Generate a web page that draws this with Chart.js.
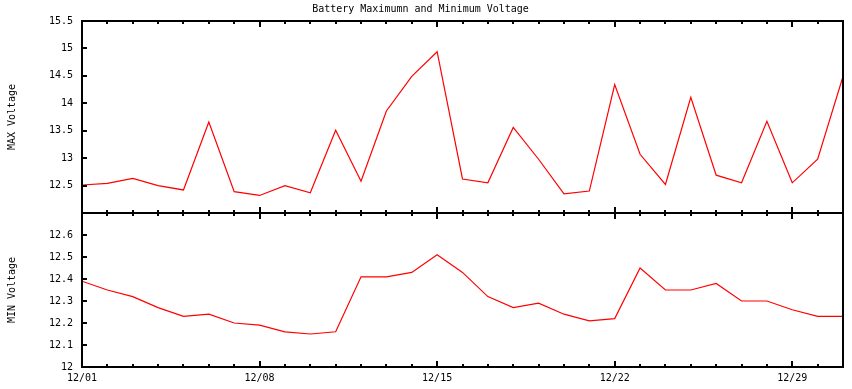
<!DOCTYPE html>
<html><head><meta charset="utf-8">
<script src="https://cdn.jsdelivr.net/npm/chart.js@4"></script>
<style>html,body{margin:0;padding:0;background:#fff}#wrap{width:852px;height:389px}</style>
</head><body><div id="wrap"><canvas id="c" width="852" height="389"></canvas></div>
<script>
const days = [1,2,3,4,5,6,7,8,9,10,11,12,13,14,15,16,17,18,19,20,21,22,23,24,25,26,27,28,29,30,31];
const maxVoltage = [12.51,12.54,12.63,12.50,12.42,13.66,12.39,12.32,12.50,12.37,13.51,12.58,13.86,14.49,14.94,12.62,12.55,13.56,12.98,12.35,12.40,14.34,13.07,12.52,14.11,12.69,12.55,13.67,12.55,12.98,14.49];
const minVoltage = [12.39,12.35,12.32,12.27,12.23,12.24,12.20,12.19,12.16,12.15,12.16,12.41,12.41,12.43,12.51,12.43,12.32,12.27,12.29,12.24,12.21,12.22,12.45,12.35,12.35,12.38,12.30,12.30,12.26,12.23,12.23];
const xTickDays = [1,8,15,22,29];
const maxTicks = [12.5,13,13.5,14,14.5,15,15.5];
const minTicks = [12,12.1,12.2,12.3,12.4,12.5,12.6];
const titleText = 'Battery Maximumn and Minimum Voltage';
const FONT = {family:'DejaVu Sans Mono', size:10, lineHeight:1.2};

const gnuplotFrame = {
  id:'gnuplotFrame',
  afterDraw(chart){
    const ctx = chart.ctx, ca = chart.chartArea;
    const xs = chart.scales.x, y1 = chart.scales.y1, y2 = chart.scales.y2;
    ctx.save();
    ctx.strokeStyle = '#000'; ctx.lineWidth = 2;
    const panels = [[y1.top, y1.bottom],[y2.top, y2.bottom]];
    panels.forEach(([t,b])=>{
      ctx.strokeRect(ca.left, t, ca.right-ca.left, b-t);
      days.forEach(d=>{
        const px = Math.round(xs.getPixelForValue(d));
        const len = xTickDays.includes(d) ? 6 : 3;
        ctx.beginPath(); ctx.moveTo(px, t); ctx.lineTo(px, t+len); ctx.stroke();
        ctx.beginPath(); ctx.moveTo(px, b); ctx.lineTo(px, b-len); ctx.stroke();
      });
    });
    [[y1,maxTicks],[y2,minTicks]].forEach(([s,tk])=>{
      tk.forEach(v=>{
        const py = Math.round(s.getPixelForValue(v));
        ctx.beginPath(); ctx.moveTo(ca.left, py); ctx.lineTo(ca.left+5, py); ctx.stroke();
      });
    });
    ctx.fillStyle = '#000';
    ctx.font = '10px "DejaVu Sans Mono"';
    ctx.textAlign = 'center'; ctx.textBaseline = 'middle';
    ctx.fillText(titleText, 420.5, 9);
    ctx.restore();
  }
};

const fmt = v => String(Math.round(v*10)/10);

new Chart(document.getElementById('c'), {
  type:'line',
  data:{
    datasets:[
      {label:'MAX', data: days.map((d,i)=>({x:d,y:maxVoltage[i]})), yAxisID:'y1', borderColor:'#ff0000', borderWidth:1.2, pointRadius:0, tension:0, fill:false},
      {label:'MIN', data: days.map((d,i)=>({x:d,y:minVoltage[i]})), yAxisID:'y2', borderColor:'#ff0000', borderWidth:1.2, pointRadius:0, tension:0, fill:false}
    ]
  },
  options:{
    responsive:false, animation:false, devicePixelRatio:1,
    layout:{padding:{left:0,right:9,top:21,bottom:0}},
    plugins:{legend:{display:false}, tooltip:{enabled:false}, title:{display:false}},
    scales:{
      x:{type:'linear', min:1, max:31,
        grid:{display:false, drawTicks:false}, border:{display:false},
        afterBuildTicks:s=>{s.ticks = xTickDays.map(v=>({value:v}));},
        afterFit:s=>{s.height = 22;},
        ticks:{color:'#000', font:FONT, padding:5, maxRotation:0, autoSkip:false,
          callback:v=>'12/'+String(v).padStart(2,'0')}
      },
      y2:{type:'linear', position:'left', stack:'v', stackWeight:154, min:12, max:12.7,
        grid:{display:false, drawTicks:false}, border:{display:false},
        afterBuildTicks:s=>{s.ticks = minTicks.map(v=>({value:v}));},
        afterFit:s=>{s.width = 82;},
        ticks:{color:'#000', font:FONT, padding:9, autoSkip:false, callback:fmt},
        title:{display:true, text:'MIN Voltage', color:'#000', font:FONT, padding:{top:6,bottom:0}}
      },
      y1:{type:'linear', position:'left', stack:'v', stackWeight:192, min:12, max:15.5,
        grid:{display:false, drawTicks:false}, border:{display:false},
        afterBuildTicks:s=>{s.ticks = maxTicks.map(v=>({value:v}));},
        afterFit:s=>{s.width = 82;},
        ticks:{color:'#000', font:FONT, padding:9, autoSkip:false, callback:fmt},
        title:{display:true, text:'MAX Voltage', color:'#000', font:FONT, padding:{top:6,bottom:0}}
      }
    }
  },
  plugins:[gnuplotFrame]
});
</script></body></html>
